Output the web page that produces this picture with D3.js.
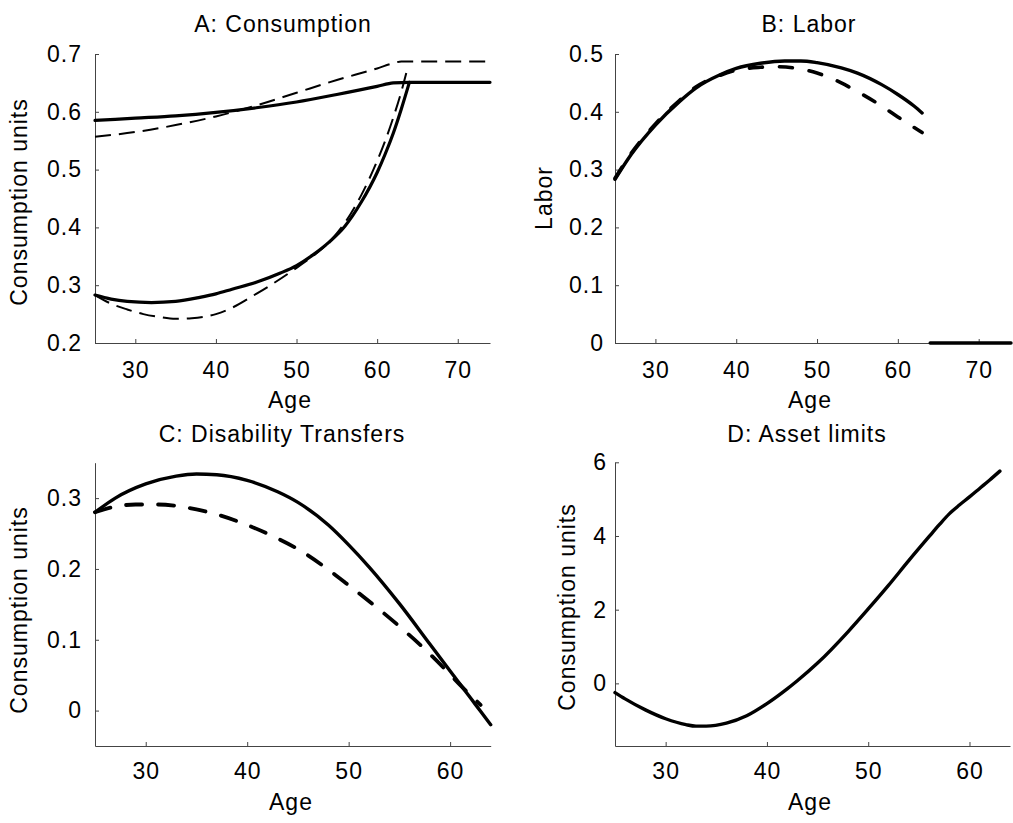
<!DOCTYPE html>
<html>
<head>
<meta charset="utf-8">
<script src="https://cdn.jsdelivr.net/npm/d3@7"></script>
<style>
body { margin: 0; background: #fff; }
text { font-family: "Liberation Sans", Arial, sans-serif; font-size: 23px; letter-spacing: 1px; fill: #000; }
.axis path, .axis line { stroke: #444; stroke-width: 1; }
</style>
</head>
<body>
<svg id="chart" width="1013" height="823"></svg>
<script>
// values: [age, value]

// A: consumption
var consHighSolid = [[25,0.585],[30,0.589],[35,0.593],[40,0.599],[45,0.607],[50,0.617],[55,0.630],[60,0.644],[62,0.650],[64,0.651],[74,0.651]];
var consHighDash = [[25,0.557],[30,0.565],[35,0.577],[40,0.592],[45,0.611],[50,0.633],[55,0.655],[60,0.675],[62,0.684],[63,0.687],[74,0.687]];
var consLowSolid = [[25,0.283],[27,0.276],[29,0.272],[32,0.270],[35,0.272],[38,0.279],[40,0.285],[42,0.293],[45,0.305],[48,0.321],[50,0.334],[52,0.352],[54,0.374],[56,0.402],[58,0.443],[60,0.495],[61,0.527],[62,0.563],[63,0.605],[64,0.651]];
var consLowDash = [[25,0.283],[27,0.268],[29,0.258],[31,0.250],[33,0.245],[35,0.242],[37,0.243],[40,0.250],[42,0.261],[45,0.285],[47,0.302],[50,0.330],[52,0.350],[54,0.374],[56,0.408],[58,0.455],[60,0.515],[61,0.550],[62,0.590],[63,0.635],[63.7,0.672]];

// B: labor (null = break before retirement)
var laborSolid = [[25,0.283],[27,0.326],[30,0.377],[33,0.418],[35,0.441],[38,0.464],[40,0.475],[43,0.484],[46,0.488],[48,0.488],[50,0.485],[53,0.476],[55,0.467],[58,0.447],[60,0.430],[62,0.410],[63,0.398],[63.5,null],[64,0],[74,0]];
var laborDash = [[25,0.285],[27,0.328],[30,0.379],[33,0.420],[35,0.443],[38,0.463],[40,0.472],[43,0.477],[45,0.478],[48,0.474],[50,0.467],[53,0.450],[55,0.435],[58,0.410],[60,0.391],[62,0.373],[63,0.364]];

// C: disability transfers
var disSolid = [[25,0.280],[27,0.300],[30,0.320],[33,0.331],[35,0.334],[37,0.333],[40,0.325],[43,0.309],[45,0.294],[48,0.262],[50,0.234],[52,0.203],[55,0.151],[58,0.094],[60,0.056],[61,0.037],[62,0.018],[63,-0.001],[64,-0.020]];
var disDash = [[25,0.280],[27,0.288],[29,0.291],[31,0.291],[33,0.289],[35,0.284],[37,0.277],[40,0.262],[43,0.243],[45,0.228],[48,0.199],[50,0.177],[53,0.143],[55,0.119],[58,0.080],[60,0.051],[61,0.036],[62,0.022],[63,0.008]];

// D: asset limits
var assetLimit = [[25,-0.25],[26,-0.42],[28,-0.72],[30,-0.96],[32,-1.12],[33,-1.16],[34,-1.16],[36,-1.08],[38,-0.88],[40,-0.55],[42,-0.15],[43,0.07],[45,0.55],[48,1.40],[50,2.02],[52,2.66],[54,3.33],[56,3.98],[57,4.30],[58,4.60],[59,4.84],[60,5.06],[61,5.29],[62,5.52],[63,5.76]];

var titles = ["A: Consumption", "B: Labor", "C: Disability Transfers", "D: Asset limits"];
var yLabels = ["Consumption units", "Labor", "Consumption units", "Consumption units"];
var xTicksLong = [30, 40, 50, 60, 70];
var xTicksShort = [30, 40, 50, 60];
var yTicksA = [0.2, 0.3, 0.4, 0.5, 0.6, 0.7];
var yTicksB = [0, 0.1, 0.2, 0.3, 0.4, 0.5];
var yTicksC = [0, 0.1, 0.2, 0.3];
var yTicksD = [0, 2, 4, 6];

var fmt1 = function(d) { return d === 0 ? "0" : d3.format(".1f")(d) };
var fmt0 = d3.format("d");

var svg = d3.select("#chart");

var panels = [
    { left: 95, right: 490, top: 54, bottom: 343, xDom: [25, 74], yDom: [0.2, 0.7], xTicks: xTicksLong, yTicks: yTicksA, yFmt: fmt1,
      xPad: 18.5, yPad: 13, titleX: 283, titleY: 32, yLabX: 27, yLabY: 202, xLabX: 290, xLabY: 408,
      series: [
        { data: consHighSolid, width: 3.2 },
        { data: consLowSolid, width: 3.2 },
        { data: consHighDash, width: 2, dash: "16,8", cap: "butt" },
        { data: consLowDash, width: 2, dash: "16,8", cap: "butt" }
      ] },
    { left: 615, right: 1011, top: 54, bottom: 343, xDom: [25, 74], yDom: [0, 0.5], xTicks: xTicksLong, yTicks: yTicksB, yFmt: fmt1,
      xPad: 18.5, yPad: 11, titleX: 809, titleY: 32, yLabX: 552, yLabY: 198, xLabX: 810, xLabY: 408,
      series: [
        { data: laborSolid, width: 3.4 },
        { data: laborDash, width: 3.6, dash: "13,17", cap: "round" }
      ] },
    { left: 95, right: 490.7, top: 462.7, bottom: 746, xDom: [25, 64], yDom: [-0.05, 0.35], xTicks: xTicksShort, yTicks: yTicksC, yFmt: fmt1,
      xPad: 16.5, yPad: 13, titleX: 282, titleY: 442, yLabX: 27, yLabY: 610, xLabX: 291, xLabY: 810,
      series: [
        { data: disSolid, width: 3.4 },
        { data: disDash, width: 3.8, dash: "16,16", cap: "round" }
      ] },
    { left: 615, right: 1010, top: 462.3, bottom: 746, xDom: [25, 64], yDom: [-1.7, 6], xTicks: xTicksShort, yTicks: yTicksD, yFmt: fmt0,
      xPad: 16.5, yPad: 8, titleX: 807, titleY: 442, yLabX: 575, yLabY: 607, xLabX: 810, xLabY: 810,
      series: [
        { data: assetLimit, width: 3.4 }
      ] }
];

panels.forEach(function(p, i) {

    var x = d3.scaleLinear().domain(p.xDom).range([p.left, p.right]);
    var y = d3.scaleLinear().domain(p.yDom).range([p.bottom, p.top]);

    var g = svg.append("g");

    g.append("g")
        .attr("class", "axis")
        .attr("transform", "translate(0," + p.bottom + ")")
        .call(d3.axisBottom(x).tickValues(p.xTicks).tickFormat(fmt0).tickSizeInner(-4).tickSizeOuter(0).tickPadding(p.xPad));

    g.append("g")
        .attr("class", "axis")
        .attr("transform", "translate(" + p.left + ",0)")
        .call(d3.axisLeft(y).tickValues(p.yTicks).tickFormat(p.yFmt).tickSizeInner(-4).tickSizeOuter(0).tickPadding(p.yPad));

    // d3 axis puts font attrs on the group; clear them so css applies
    g.selectAll(".axis").attr("font-size", null).attr("font-family", null);

    var line = d3.line()
        .defined(function(d) { return d[1] !== null })
        .x(function(d) { return x(d[0]) })
        .y(function(d) { return y(d[1]) })
        .curve(d3.curveMonotoneX);

    p.series.forEach(function(s) {
        g.append("path")
            .datum(s.data)
            .attr("d", line)
            .attr("fill", "none")
            .attr("stroke", "#000")
            .attr("stroke-width", s.width)
            .attr("stroke-linejoin", "round")
            .attr("stroke-linecap", s.cap || "round")
            .attr("stroke-dasharray", s.dash || null);
    });

    g.append("text")
        .attr("x", p.titleX)
        .attr("y", p.titleY)
        .attr("text-anchor", "middle")
        .text(titles[i]);

    g.append("text")
        .attr("x", p.xLabX)
        .attr("y", p.xLabY)
        .attr("text-anchor", "middle")
        .text("Age");

    g.append("text")
        .attr("transform", "translate(" + p.yLabX + "," + p.yLabY + ") rotate(-90)")
        .attr("text-anchor", "middle")
        .text(yLabels[i]);
});
</script>
</body>
</html>
